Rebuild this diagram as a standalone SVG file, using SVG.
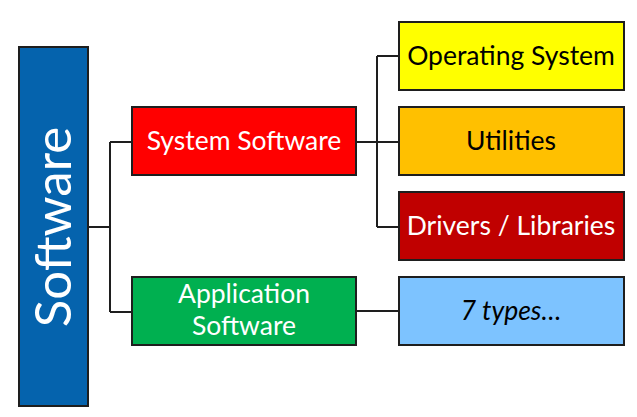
<svg xmlns="http://www.w3.org/2000/svg" width="637" height="417" viewBox="0 0 637 417">
<style>
.box{stroke:#1e1e1e;stroke-width:2}
.t{font-family:"Lato","Liberation Sans",sans-serif;font-size:26.5px;text-anchor:middle}
.w{fill:#ffffff}
.k{fill:#000000}
.c{fill:none;stroke:#1e1e1e;stroke-width:2}
</style>
<rect width="637" height="417" fill="#ffffff"/>
<g id="connectors">
<path class="c" d="M88 227 H110 M110 142 V312 M110 142 H132 M110 312 H132"/>
<path class="c" d="M356 142 H399 M377 56 V227 M377 56 H399 M377 227 H399"/>
<path class="c" d="M356 311 H399"/>
</g>
<g id="software">
<rect class="box" x="19" y="47" width="69" height="359" fill="#0563AD"/>
<text class="t w" transform="translate(71 227) rotate(-90)" style="font-size:51px">Software</text>
</g>
<g id="system-software">
<rect class="box" x="132" y="107" width="224" height="68" fill="#FF0000"/>
<text class="t w" x="244" y="150">System Software</text>
</g>
<g id="application-software">
<rect class="box" x="132" y="277" width="224" height="68" fill="#00B050"/>
<text class="t w" x="244" y="303">Application</text>
<text class="t w" x="244" y="335">Software</text>
</g>
<g id="operating-system">
<rect class="box" x="399" y="22" width="225" height="68" fill="#FFFF00"/>
<text class="t k" x="511" y="65">Operating System</text>
</g>
<g id="utilities">
<rect class="box" x="399" y="107" width="225" height="68" fill="#FFC000"/>
<text class="t k" x="511" y="150">Utilities</text>
</g>
<g id="drivers">
<rect class="box" x="399" y="192" width="225" height="68" fill="#C00000"/>
<text class="t w" x="511" y="235">Drivers / Libraries</text>
</g>
<g id="types">
<rect class="box" x="399" y="277" width="225" height="68" fill="#7DC3FF"/>
<text class="t k" x="511" y="320" style="font-style:italic">7 types…</text>
</g>
</svg>
